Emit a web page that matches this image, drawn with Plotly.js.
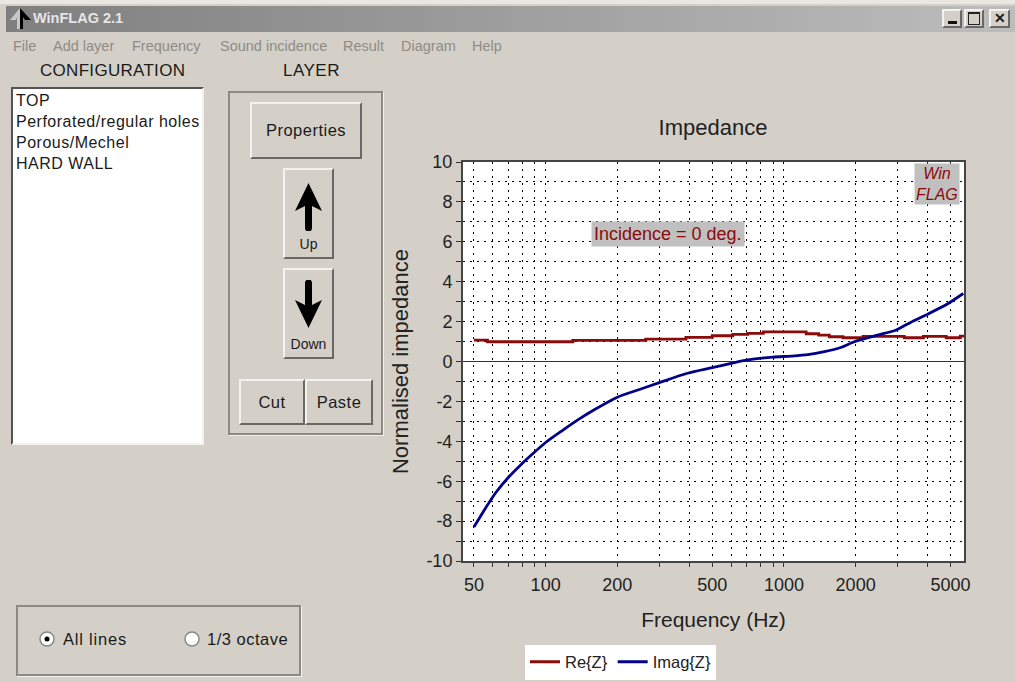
<!DOCTYPE html>
<html><head><meta charset="utf-8">
<script src="https://cdn.plot.ly/plotly-3.0.1.min.js"></script>
<style>
html,body{margin:0;padding:0;width:1015px;height:682px;overflow:hidden;background:#d4d0c8;font-family:"Liberation Sans",Arial,sans-serif;color:#1a1a1a}
.a{position:absolute;white-space:nowrap}
.btn{position:absolute;box-sizing:border-box;background:#d4d0c8;border:2px solid;border-color:#f4f2ee #6a6864 #6a6864 #f4f2ee;text-align:center}
.grp{position:absolute;box-sizing:border-box;border:2px solid #8c8a85;box-shadow:1px 1px 0 #f4f2ee}
.menu{position:absolute;top:38px;font-size:14.5px;color:#8f8c86}
.t{letter-spacing:.5px}
#plot{position:absolute;left:0;top:0;width:1015px;height:682px}
</style></head><body>
<div class="a" style="left:0;top:0;width:1015px;height:4px;background:#e9e7e2"></div>
<div class="a" style="left:6px;top:6px;width:1009px;height:26px;background:linear-gradient(90deg,#7f7f7f,#bdbdbd)"></div>
<svg class="a" style="left:9px;top:7px" width="24" height="24" viewBox="0 0 24 24"><path d="M11 1L1 13h6l1-3v12h3z" fill="#c8c8c8"/><path d="M11 1l11 12h-6l-2-3v12h-3z" fill="#000"/></svg>
<div class="a" style="left:33px;top:10px;font-size:14.5px;font-weight:bold;color:#e6e6e6">WinFLAG 2.1</div>
<div class="btn" style="left:942px;top:9px;width:20px;height:19px"><div style="position:absolute;left:4px;top:10px;width:9px;height:3px;background:#111"></div></div>
<div class="btn" style="left:964px;top:9px;width:20px;height:19px"><div style="margin:1px 2px;height:10px;border:1.5px solid #222;border-top-width:2.5px"></div></div>
<div class="btn" style="left:989px;top:9px;width:21px;height:19px;font:bold 14px 'Liberation Sans';line-height:15px">✕</div>
<div class="menu" style="left:13px">File</div><div class="menu" style="left:53px">Add layer</div><div class="menu" style="left:132px">Frequency</div><div class="menu" style="left:220px">Sound incidence</div><div class="menu" style="left:343px">Result</div><div class="menu" style="left:401px">Diagram</div><div class="menu" style="left:472px">Help</div>
<div class="a" style="left:40px;top:61px;font-size:17px;letter-spacing:.3px">CONFIGURATION</div>
<div class="a t" style="left:283px;top:61px;font-size:17px">LAYER</div>
<div class="a t" style="left:11px;top:87px;width:193px;height:358px;box-sizing:border-box;background:#fff;border:2px solid;border-color:#55534f #f4f2ee #f4f2ee #55534f;font-size:16px;line-height:21px;padding:1px 3px"><div>TOP</div><div>Perforated/regular holes</div><div>Porous/Mechel</div><div>HARD WALL</div></div>
<div class="grp" style="left:228px;top:91px;width:155px;height:344px"></div>
<div class="btn t" style="left:250px;top:102px;width:112px;height:57px;font-size:16.5px;line-height:53px">Properties</div>
<div class="btn" style="left:283px;top:168px;width:51px;height:91px"><svg style="position:absolute;left:10px;top:9px" width="27" height="52" viewBox="0 0 27 52"><path d="M13.5 3L27 31l-10-5v22a3 3 0 0 1-7 0V26L0 31z" fill="#000" transform="translate(0,1)"/></svg><div style="position:absolute;left:0;right:0;top:66px;font-size:14px">Up</div></div>
<div class="btn" style="left:283px;top:268px;width:51px;height:91px"><svg style="position:absolute;left:10px;top:10px" width="27" height="50" viewBox="0 0 27 50"><path d="M10 3a3 3 0 0 1 7 0v22l10-5-13.5 28L0 20l10 5z" fill="#000"/></svg><div style="position:absolute;left:0;right:0;top:66px;font-size:14px">Down</div></div>
<div class="btn t" style="left:239px;top:379px;width:66px;height:46px;font-size:16.5px;line-height:42px">Cut</div>
<div class="btn t" style="left:305px;top:379px;width:68px;height:46px;font-size:16.5px;line-height:42px">Paste</div>
<div class="grp" style="left:16px;top:605px;width:285px;height:71px"></div>
<svg class="a" style="left:38px;top:630px" width="18" height="18"><circle cx="9" cy="9" r="7" fill="#fff" stroke="#888" stroke-width="1.5"/><circle cx="9" cy="9" r="2.5" fill="#000"/></svg>
<div class="a" style="left:63px;top:630px;font-size:16.5px;letter-spacing:.8px">All lines</div>
<svg class="a" style="left:183px;top:630px" width="18" height="18"><circle cx="9" cy="9" r="7" fill="#fff" stroke="#888" stroke-width="1.5"/></svg>
<div class="a t" style="left:207px;top:630px;font-size:16.5px">1/3 octave</div>
<div id="plot"></div>
<script>
const reFreq = [50,57,130,263,388,500,610,705,820,1240,1400,1550,1770,2150,3200,3850,4800,5500,5700];
const reZ    = [1.07,0.99,1.06,1.12,1.21,1.29,1.36,1.41,1.48,1.39,1.32,1.24,1.19,1.26,1.19,1.26,1.19,1.27,1.27];
const imFreq = [50,56,61.6,70,78,88,100,117.5,138,160,200,251,300,394,500,600,705,898,1070,1260,1480,1730,1975,2470,2960,3400,3930,4850,5660];
const imZ    = [-8.30,-7.34,-6.59,-5.79,-5.22,-4.64,-4.06,-3.46,-2.89,-2.42,-1.79,-1.38,-1.06,-0.59,-0.31,-0.09,0.08,0.22,0.27,0.34,0.49,0.70,0.99,1.32,1.58,1.96,2.32,2.88,3.41];
const xTicks = [50,60,70,80,90,100,200,300,400,500,600,700,800,900,1000,2000,3000,4000,5000];
const xLabels = {50:'50',100:'100',200:'200',500:'500',1000:'1000',2000:'2000',5000:'5000'};
const yTicks = [-10,-9,-8,-7,-6,-5,-4,-3,-2,-1,0,1,2,3,4,5,6,7,8,9,10];
const axisFont = {family:'Liberation Sans',size:18,color:'#222'};
const gridDash = '1.5px,5.5px';
Plotly.newPlot('plot',[
 {x:reFreq,y:reZ,name:'Re{Z}',mode:'lines',line:{color:'#8b0a0a',width:2.8,shape:'hv'}},
 {x:imFreq,y:imZ,name:'Imag{Z}',mode:'lines',line:{color:'#00008b',width:2.8,shape:'spline',smoothing:0.7}}
],{
 width:1015,height:682,showlegend:true,
 paper_bgcolor:'rgba(0,0,0,0)',plot_bgcolor:'#fff',
 margin:{l:463,r:51,t:162,b:121,pad:0},
 title:{text:'Impedance',font:{family:'Liberation Sans',size:22,color:'#222'},x:713/1015,xref:'container',xanchor:'center',y:1-127/682,yref:'container',yanchor:'middle'},
 xaxis:{type:'log',range:[Math.log10(45),Math.log10(5700)],tickmode:'array',tickvals:xTicks,ticktext:xTicks.map(v=>xLabels[v]||''),tickangle:0,
  ticks:'outside',ticklen:4,tickcolor:'#333',tickfont:axisFont,ticklabelstandoff:2,showline:true,mirror:true,linecolor:'#444',linewidth:2,
  showgrid:true,gridcolor:'#000',griddash:gridDash,gridwidth:1,zeroline:false,
  title:{text:'Frequency (Hz)',font:{family:'Liberation Sans',size:21,color:'#222'},standoff:19}},
 yaxis:{range:[-10,10],tickmode:'array',tickvals:yTicks,ticktext:yTicks.map(v=>v%2===0?String(v):''),
  ticks:'outside',ticklen:5,tickcolor:'#333',tickfont:axisFont,showline:true,mirror:true,linecolor:'#444',linewidth:2,
  showgrid:true,gridcolor:'#000',griddash:gridDash,gridwidth:1,zeroline:true,zerolinecolor:'#333',zerolinewidth:1.5,
  title:{text:'Normalised impedance',font:{family:'Liberation Sans',size:22,color:'#222'},standoff:12}},
 legend:{orientation:'h',x:525/1015,xref:'container',xanchor:'left',y:1-644.5/682,yref:'container',yanchor:'top',bgcolor:'#fff',font:{family:'Liberation Sans',size:16.5,color:'#222'},itemwidth:30,tracegroupgap:0},
 annotations:[
  {xref:'paper',yref:'paper',x:(668-463)/501,y:(561-234)/399,text:'Incidence = 0 deg.',showarrow:false,bgcolor:'#c0c0c0',font:{family:'Liberation Sans',size:18,color:'#8b0a0a'},borderpad:2,xanchor:'center',yanchor:'middle'},
  {xref:'paper',yref:'paper',x:(937-463)/501,y:(561-184)/399,text:'<i>Win<br>FLAG</i>',showarrow:false,bgcolor:'#c0c0c0',font:{family:'Liberation Sans',size:16,color:'#8b0a0a'},borderpad:1,align:'center',xanchor:'center',yanchor:'middle'}
 ]
},{displayModeBar:false,staticPlot:true});
</script>
</body></html>
